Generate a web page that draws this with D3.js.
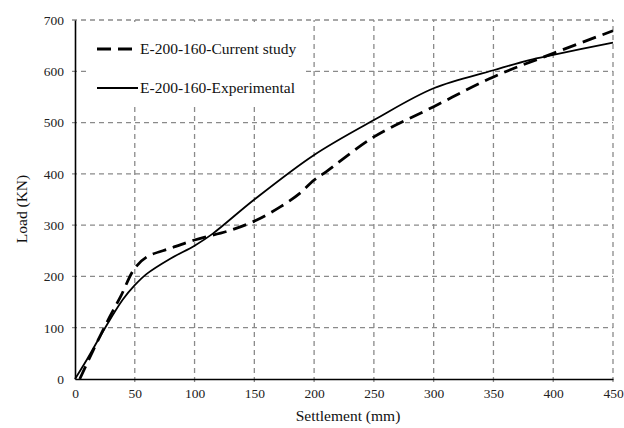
<!DOCTYPE html>
<html>
<head>
<meta charset="utf-8">
<script src="https://cdn.jsdelivr.net/npm/d3@7"></script>
<style>
  body { margin: 0; background: #fff; }
  svg { display: block; }
</style>
</head>
<body>
<svg id="chart"></svg>
<script>
// settlement (mm) vs load (KN)
var curSettle = [4, 15, 29, 38, 50, 60, 80, 100, 130, 152, 172, 188, 200, 210, 250, 300, 350, 400, 450]
var curLoad = [0, 55, 121, 160, 216, 238, 255, 271, 290, 310, 336, 362, 388, 404, 472, 531, 589, 635, 679]

var expSettle = [0, 10, 25, 40, 50, 60, 80, 100, 115, 150, 200, 250, 300, 350, 380, 400, 450]
var expLoad = [0, 38, 99, 155, 183, 205, 235, 260, 283, 350, 437, 505, 567, 602, 622, 632, 656]

var xTicks = [0, 50, 100, 150, 200, 250, 300, 350, 400, 450]
var yTicks = [0, 100, 200, 300, 400, 500, 600, 700]

var seriesNames = ['E-200-160-Current study', 'E-200-160-Experimental']

var width = 624, height = 428
var margin = {top: 20, right: 11, bottom: 49, left: 75}
var serif = '"Liberation Serif", "Times New Roman", "DejaVu Serif", serif'

var svg = d3.select('#chart').attr('width', width).attr('height', height)

var x = d3.scaleLinear().domain([0, 450]).range([margin.left, width - margin.right])
var y = d3.scaleLinear().domain([0, 700]).range([height - margin.bottom, margin.top])

// gridlines
var grid = svg.append('g').attr('class', 'grid')
grid.selectAll('line.v')
    .data(xTicks.filter(function (d) { return d > 0 }))
    .enter().append('line')
    .attr('class', 'v')
    .attr('x1', function (d) { return x(d) }).attr('x2', function (d) { return x(d) })
    .attr('y1', y(0) + 3).attr('y2', y(700))
grid.selectAll('line.h')
    .data(yTicks.filter(function (d) { return d > 0 }))
    .enter().append('line')
    .attr('class', 'h')
    .attr('x1', x(0) - 3).attr('x2', x(450))
    .attr('y1', function (d) { return y(d) }).attr('y2', function (d) { return y(d) })
grid.selectAll('line')
    .attr('stroke', '#8a8a8a')
    .attr('stroke-width', 1.3)
    .attr('stroke-dasharray', '5,4')

// legend box hides the grid behind it
svg.append('rect')
    .attr('x', 88).attr('y', 22)
    .attr('width', 218).attr('height', 84)
    .attr('fill', '#fff')

// axes
var xAxis = svg.append('g')
    .attr('transform', 'translate(0,' + y(0) + ')')
    .call(d3.axisBottom(x).tickValues(xTicks).tickSize(0).tickPadding(9))
var yAxis = svg.append('g')
    .attr('transform', 'translate(' + x(0) + ',0)')
    .call(d3.axisLeft(y).tickValues(yTicks).tickSize(0).tickPadding(11))
xAxis.select('.domain').attr('stroke', '#000').attr('stroke-width', 1.6)
yAxis.select('.domain').attr('stroke', '#000').attr('stroke-width', 1.6)
svg.selectAll('.tick text')
    .style('font-family', serif)
    .style('font-size', '13.5px')
    .attr('fill', '#222')

svg.append('text')
    .attr('x', 348).attr('y', 421)
    .attr('text-anchor', 'middle')
    .style('font-family', serif).style('font-size', '15.5px')
    .attr('fill', '#111')
    .text('Settlement (mm)')
svg.append('text')
    .attr('transform', 'translate(27,209) rotate(-90)')
    .attr('text-anchor', 'middle')
    .style('font-family', serif).style('font-size', '15.5px')
    .attr('fill', '#111')
    .text('Load (KN)')

// curves
var line = d3.line()
    .x(function (d) { return x(d[0]) })
    .y(function (d) { return y(d[1]) })
    .curve(d3.curveCatmullRom.alpha(0.5))

svg.append('path')
    .datum(d3.zip(expSettle, expLoad))
    .attr('d', line)
    .attr('fill', 'none')
    .attr('stroke', '#000')
    .attr('stroke-width', 1.8)

svg.append('path')
    .datum(d3.zip(curSettle, curLoad))
    .attr('d', line)
    .attr('fill', 'none')
    .attr('stroke', '#000')
    .attr('stroke-width', 2.8)
    .attr('stroke-dasharray', '14,7')

// legend
var legend = svg.append('g')
legend.append('line')
    .attr('x1', 97).attr('x2', 138).attr('y1', 49).attr('y2', 49)
    .attr('stroke', '#000').attr('stroke-width', 2.8)
    .attr('stroke-dasharray', '14,7')
legend.append('line')
    .attr('x1', 97).attr('x2', 138).attr('y1', 88).attr('y2', 88)
    .attr('stroke', '#000').attr('stroke-width', 1.8)
legend.selectAll('text')
    .data(seriesNames)
    .enter().append('text')
    .attr('x', 140)
    .attr('y', function (d, i) { return 54 + i * 39 })
    .style('font-family', serif).style('font-size', '15.5px')
    .attr('fill', '#111')
    .text(function (d) { return d })
</script>
</body>
</html>
